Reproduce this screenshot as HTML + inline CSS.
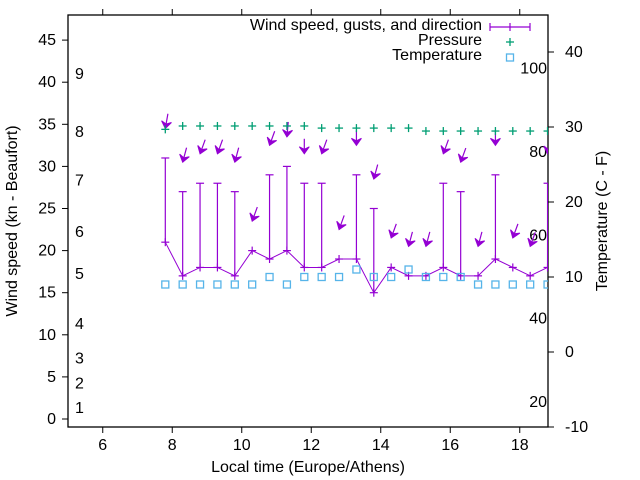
<!DOCTYPE html>
<html><head><meta charset="utf-8"><style>
html,body{margin:0;padding:0;background:#fff;}
svg{display:block;font-family:"Liberation Sans",Arial,sans-serif;}
</style></head><body>
<svg id="chart" width="640" height="480" viewBox="0 0 640 480" xmlns="http://www.w3.org/2000/svg"></svg>
<script>
const times=[7.8,8.3,8.8,9.3,9.8,10.3,10.8,11.3,11.8,12.3,12.8,13.3,13.8,14.3,14.8,15.3,15.8,16.3,16.8,17.3,17.8,18.3,18.8];
const wind=[21,17,18,18,17,20,19,20,18,18,19,19,15,18,17,17,18,17,17,19,18,17,18];
const gusts=[31,27,28,28,27,20,29,30,28,28,19,29,25,18,17,17,28,27,17,29,18,17,28];
const direction=[10,15,20,20,15,20,20,5,0,20,20,0,15,20,15,15,20,20,15,0,20,20,10];
const pressure=[34.4,34.8,34.8,34.8,34.8,34.8,34.8,34.8,34.8,34.55,34.55,34.55,34.55,34.55,34.55,34.2,34.2,34.2,34.2,34.2,34.2,34.2,34.2];
const temperature=[9,9,9,9,9,9,10,9,10,10,10,11,10,10,11,10,10,10,9,9,9,9,9];
const xTicks=[6,8,10,12,14,16,18];
const yTicks=[0,5,10,15,20,25,30,35,40,45];
const y2Ticks=[-10,0,10,20,30,40];
const beaufortLabels=["1","2","3","4","5","6","7","8","9"];
const beaufortPos=[1.3,4.2,7.2,11.3,17.2,22.2,28.3,34.1,41];
const fLabels=[20,40,60,80,100];

const L=68,R=548,T=15,B=427;
const X=t=>L+(t-5)*34.75;
const Y=v=>419-v*8.42;
const Y2=c=>427-(c+10)*7.5;
const PURPLE="#9400d3",GREEN="#009e73",CYAN="#56b4e9";
const svg=document.getElementById('chart');
const NS="http://www.w3.org/2000/svg";
function mk(tag,attrs,parent){const e=document.createElementNS(NS,tag);for(const k in attrs)e.setAttribute(k,attrs[k]);(parent||svg).appendChild(e);return e;}
function txt(s,x,y,anchor,parent,extra){const e=mk('text',Object.assign({x:x,y:y,'text-anchor':anchor,'font-size':16,fill:'#000'},extra||{}),parent);e.textContent=s;return e;}

const defs=mk('defs',{});const cp=mk('clipPath',{id:'pc'},defs);mk('rect',{x:L,y:T,width:R-L,height:B-T},cp);

const axes=mk('g',{});


mk('rect',{x:L,y:T,width:R-L,height:B-T,fill:'none',stroke:'#000','stroke-width':1.3},axes);
xTicks.forEach(t=>{
  const x=X(t);
  mk('line',{x1:x,x2:x,y1:B,y2:B+6,stroke:'#000'},axes);
  mk('line',{x1:x,x2:x,y1:T,y2:T-6,stroke:'#000'},axes);
  const e=txt(String(t),x,450,'middle',axes);
  
  
});
yTicks.forEach(v=>{
  const y=Y(v);
  mk('line',{x1:L-6,x2:L,y1:y,y2:y,stroke:'#000'},axes);
  const e=txt(String(v),56,y+5,'end',axes);
  
  
});
y2Ticks.forEach(v=>{
  const y=Y2(v);
  mk('line',{x1:R,x2:R+6,y1:y,y2:y,stroke:'#000'},axes);
  const e=txt(String(v),565,y+5,'start',axes);
  
  
});
beaufortLabels.forEach((s,i)=>{
  const e=txt(s,75,Y(beaufortPos[i])+5,'start',axes);
  
  
});
fLabels.forEach(f=>{
  const c=(f-32)*5/9;
  const e=txt(String(f),547,Y2(c)+5,'end',axes);
  
  
});
let t1=txt('Wind speed (kn - Beaufort)',0,0,'middle',axes,{transform:'translate(17,221) rotate(-90)'});


let t2=txt('Temperature (C - F)',0,0,'middle',axes,{transform:'translate(607,221) rotate(-90)'});


let t3=txt('Local time (Europe/Athens)',308,472,'middle',axes);



const plot=mk('g',{'clip-path':'url(#pc)'});
let pts=times.map((t,i)=>X(t)+','+Y(wind[i])).join(' ');
const wl=mk('polyline',{points:pts,fill:'none',stroke:PURPLE,'stroke-width':1},plot);


times.forEach((t,i)=>{
  const x=X(t),yw=Y(wind[i]),yg=Y(gusts[i]);
  const g=mk('g',{stroke:PURPLE,'stroke-width':1.2},plot);
  
  
  if(gusts[i]>wind[i]){
    mk('line',{x1:x,x2:x,y1:yw,y2:yg},g);
    mk('line',{x1:x-4,x2:x+4,y1:yg,y2:yg},g);
  }
  mk('line',{x1:x-4,x2:x+4,y1:yw,y2:yw},g);
  mk('line',{x1:x,x2:x,y1:yw-4,y2:yw+4},g);
  const a=direction[i]*Math.PI/180;
  const dx=-Math.sin(a),dy=Math.cos(a);
  const tx=x,ty=Y(gusts[i]+3.5);
  const arr=mk('g',{},plot);
  
  
  mk('line',{x1:tx-dx*15,y1:ty-dy*15,x2:tx,y2:ty,stroke:PURPLE,'stroke-width':1.2},arr);
  const px=-dy,py=dx;
  const bx=tx-dx*7,by=ty-dy*7,nx=tx-dx*4.5,ny=ty-dy*4.5;
  mk('polygon',{points:`${tx},${ty} ${bx+px*5},${by+py*5} ${nx},${ny} ${bx-px*5},${by-py*5}`,fill:PURPLE,stroke:PURPLE,'stroke-width':1},arr);
});
times.forEach((t,i)=>{
  const x=X(t),y=Y(pressure[i]);
  const g=mk('g',{stroke:GREEN,'stroke-width':1.3},plot);
  
  
  mk('line',{x1:x-4,x2:x+4,y1:y,y2:y},g);
  mk('line',{x1:x,x2:x,y1:y-4,y2:y+4},g);
});
times.forEach((t,i)=>{
  const x=X(t),y=Y2(temperature[i]);
  const r=mk('rect',{x:x-3.5,y:y-3.5,width:7,height:7,fill:'none',stroke:CYAN,'stroke-width':1.3},plot);
  
  
});

const lg=mk('g',{});


let l1=txt('Wind speed, gusts, and direction',482,30,'end',lg);


const lw=mk('g',{stroke:PURPLE,'stroke-width':1.2},lg);
mk('line',{x1:490,x2:530,y1:27,y2:27},lw);
mk('line',{x1:490,x2:490,y1:23,y2:31},lw);
mk('line',{x1:530,x2:530,y1:23,y2:31},lw);
mk('line',{x1:510,x2:510,y1:23,y2:31},lw);
let l2=txt('Pressure',482,45,'end',lg);


const lp=mk('g',{stroke:GREEN,'stroke-width':1.3},lg);
mk('line',{x1:506,x2:514,y1:42,y2:42},lp);
mk('line',{x1:510,x2:510,y1:38,y2:46},lp);
let l3=txt('Temperature',482,60,'end',lg);


mk('rect',{x:506.5,y:54,width:7,height:7,fill:'none',stroke:CYAN,'stroke-width':1.3},lg);
</script>
</body></html>
